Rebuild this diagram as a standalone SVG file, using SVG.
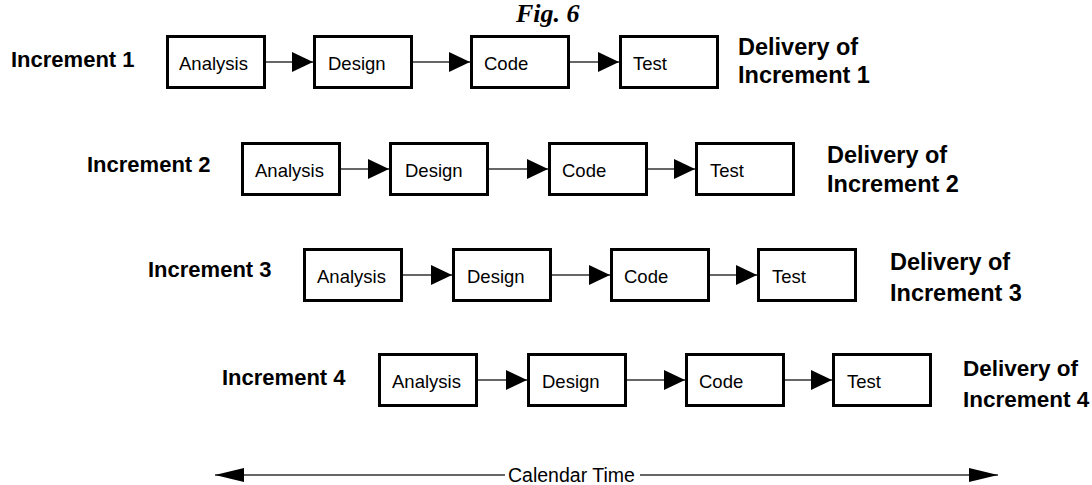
<svg xmlns="http://www.w3.org/2000/svg" width="1092" height="485" viewBox="0 0 1092 485">
<style>
.box{fill:#fff;stroke:#000;stroke-width:3}
.bt{font-family:"Liberation Sans",Arial,sans-serif;font-size:18.5px;fill:#000}
.lbl{font-family:"Liberation Sans",Arial,sans-serif;font-size:22px;font-weight:bold;fill:#000}
.dl{font-family:"Liberation Sans",Arial,sans-serif;font-size:23.5px;font-weight:bold;fill:#000}
.cn{stroke:#333;stroke-width:1.5;fill:none;marker-end:url(#ah)}
.cal{stroke:#333;stroke-width:1.5;fill:none}
</style>
<defs>
<marker id="ah" markerUnits="userSpaceOnUse" markerWidth="22" markerHeight="22" refX="21" refY="10" orient="auto" viewBox="0 0 22 22">
<path d="M0,0 L21,10 L0,20 z" fill="#000"/>
</marker>
<marker id="ch" markerUnits="userSpaceOnUse" markerWidth="30" markerHeight="16" refX="29" refY="7" orient="auto-start-reverse" viewBox="0 0 30 16">
<path d="M0,0 L29,7 L0,14 z" fill="#000"/>
</marker>
</defs>
<rect width="1092" height="485" fill="#fff"/>
<text x="516" y="22" style="font-family:'Liberation Serif','Times New Roman',serif;font-size:26px;font-weight:bold;font-style:italic">Fig. 6</text>

<g id="row1">
<text class="lbl" x="11" y="67">Increment 1</text>
<g id="r1-analysis"><rect class="box" x="167.5" y="36.5" width="97" height="51"/><text class="bt" x="179" y="70">Analysis</text></g>
<g id="r1-design"><rect class="box" x="314.5" y="36.5" width="97" height="51"/><text class="bt" x="328" y="70">Design</text></g>
<g id="r1-code"><rect class="box" x="471.5" y="36.5" width="97" height="51"/><text class="bt" x="484" y="70">Code</text></g>
<g id="r1-test"><rect class="box" x="620.5" y="36.5" width="97" height="51"/><text class="bt" x="633" y="70">Test</text></g>
<text class="dl" x="738" y="55">Delivery of</text>
<text class="dl" x="738" y="83">Increment 1</text>
</g>

<g id="row2">
<text class="lbl" x="87" y="172">Increment 2</text>
<g id="r2-analysis"><rect class="box" x="242.5" y="143.5" width="97" height="51"/><text class="bt" x="255" y="177">Analysis</text></g>
<g id="r2-design"><rect class="box" x="390.5" y="143.5" width="97" height="51"/><text class="bt" x="405" y="177">Design</text></g>
<g id="r2-code"><rect class="box" x="549.5" y="143.5" width="97" height="51"/><text class="bt" x="562" y="177">Code</text></g>
<g id="r2-test"><rect class="box" x="696.5" y="143.5" width="97" height="51"/><text class="bt" x="710" y="177">Test</text></g>
<text class="dl" x="827" y="163">Delivery of</text>
<text class="dl" x="827" y="192">Increment 2</text>
</g>

<g id="row3">
<text class="lbl" x="148" y="277">Increment 3</text>
<g id="r3-analysis"><rect class="box" x="304.5" y="249.5" width="97" height="51"/><text class="bt" x="317" y="283">Analysis</text></g>
<g id="r3-design"><rect class="box" x="453.5" y="249.5" width="97" height="51"/><text class="bt" x="467" y="283">Design</text></g>
<g id="r3-code"><rect class="box" x="611.5" y="249.5" width="97" height="51"/><text class="bt" x="624" y="283">Code</text></g>
<g id="r3-test"><rect class="box" x="758.5" y="249.5" width="97" height="51"/><text class="bt" x="772" y="283">Test</text></g>
<text class="dl" x="890" y="270">Delivery of</text>
<text class="dl" x="890" y="301">Increment 3</text>
</g>

<g id="row4">
<text class="lbl" x="222" y="385">Increment 4</text>
<g id="r4-analysis"><rect class="box" x="379.5" y="354.5" width="97" height="51"/><text class="bt" x="392" y="388">Analysis</text></g>
<g id="r4-design"><rect class="box" x="528.5" y="354.5" width="97" height="51"/><text class="bt" x="542" y="388">Design</text></g>
<g id="r4-code"><rect class="box" x="686.5" y="354.5" width="97" height="51"/><text class="bt" x="699" y="388">Code</text></g>
<g id="r4-test"><rect class="box" x="833.5" y="354.5" width="97" height="51"/><text class="bt" x="847" y="388">Test</text></g>
<text class="dl" x="963" y="376" style="font-size:22.5px">Delivery of</text>
<text class="dl" x="963" y="407" style="font-size:22.5px">Increment 4</text>
</g>

<g id="connectors">
<line class="cn" x1="266" y1="62" x2="313" y2="62"/>
<line class="cn" x1="413" y1="62" x2="470" y2="62"/>
<line class="cn" x1="570" y1="62" x2="619" y2="62"/>
<line class="cn" x1="341" y1="169" x2="389" y2="169"/>
<line class="cn" x1="489" y1="169" x2="548" y2="169"/>
<line class="cn" x1="648" y1="169" x2="695" y2="169"/>
<line class="cn" x1="403" y1="275" x2="452" y2="275"/>
<line class="cn" x1="552" y1="275" x2="610" y2="275"/>
<line class="cn" x1="710" y1="275" x2="757" y2="275"/>
<line class="cn" x1="478" y1="380" x2="527" y2="380"/>
<line class="cn" x1="627" y1="380" x2="685" y2="380"/>
<line class="cn" x1="785" y1="380" x2="832" y2="380"/>
</g>

<g id="calendar">
<line class="cal" x1="215" y1="475" x2="505" y2="475" marker-start="url(#ch)"/>
<line class="cal" x1="640" y1="475" x2="998" y2="475" marker-end="url(#ch)"/>
<text x="508" y="482" style="font-family:'Liberation Sans',Arial,sans-serif;font-size:19.5px;fill:#000">Calendar Time</text>
</g>
</svg>
